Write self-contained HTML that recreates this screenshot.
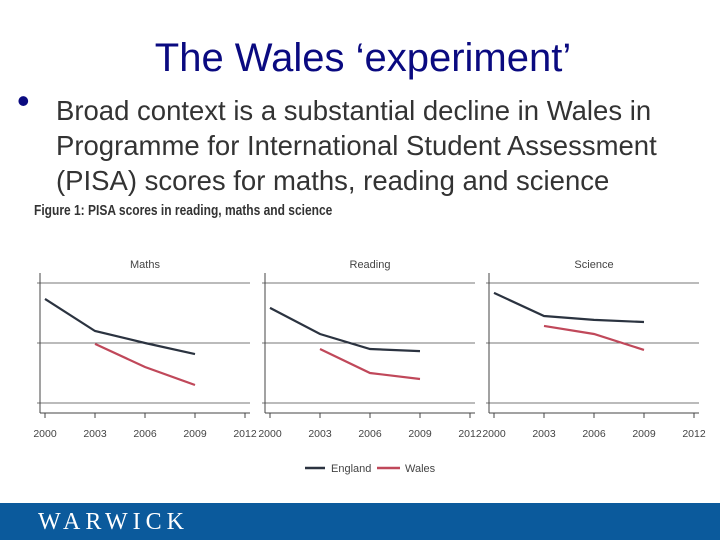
<!DOCTYPE html>
<html><head><meta charset="utf-8"><style>
body{margin:0;width:720px;height:540px;background:#fff;position:relative;overflow:hidden;font-family:"Liberation Sans",sans-serif}
.t{position:absolute;white-space:nowrap}
</style></head><body>
<div class="t" style="left:0;width:726px;text-align:center;top:36px;font-size:40px;color:#0a0a80">The Wales ‘experiment’</div>
<div class="t" style="left:17px;top:80px;font-size:36px;color:#0a0a80">•</div>
<div class="t" style="left:56px;top:93px;font-size:27.5px;line-height:35px;color:#333">Broad context is a substantial decline in Wales in<br>Programme for International Student Assessment<br>(PISA) scores for maths, reading and science</div>
<div class="t" style="left:34px;top:202px;font-size:15px;font-weight:bold;color:#333;transform:scaleX(0.8);transform-origin:left">Figure 1: PISA scores in reading, maths and science</div>
<svg id="ch" width="720" height="540" style="position:absolute;left:0;top:0"></svg>
<div style="position:absolute;left:0;top:503px;width:720px;height:37px;background:#0b5a9c"></div>
<div class="t" style="left:38px;top:509px;font-family:'Liberation Serif',serif;font-size:24px;letter-spacing:5px;color:#fff">WARWICK</div>
<script>
const years=[2000,2003,2006,2009,2012];
const panelNames=["Maths","Reading","Science"];
const englandMaths=[514.7,504,500,496.3];
const walesMaths=[null,499.7,492,486];
const englandReading=[511.7,503,498,497.3];
const walesReading=[null,498,490,488];
const englandScience=[516.7,509,507.7,507];
const walesScience=[null,505.7,503,497.7];
const gridVals=[520,500,480];
const eng=[englandMaths,englandReading,englandScience];
const wal=[walesMaths,walesReading,walesScience];
const svg=document.getElementById('ch');const NS='http://www.w3.org/2000/svg';
function mk(t,a,p){const e=document.createElementNS(NS,t);for(const k in a)e.setAttribute(k,a[k]);(p||svg).appendChild(e);return e;}
const px0=[45,270,494];const pw=200;
function y(v){return 343-(v-500)*3;}
panelNames.forEach((nm,i)=>{
 const x0=px0[i];const x=yr=>x0+(yr-2000)/12*pw;
 const g=mk('g',{});
 
 
 const tt=mk('text',{x:x0+100,y:268,'text-anchor':'middle','font-size':11,fill:'#444'},g);tt.textContent=nm;
 
 gridVals.forEach(v=>{const l=mk('line',{x1:x0-8,x2:x0+205,y1:y(v),y2:y(v),stroke:'#777','stroke-width':1},g);
  });
 const ax=mk('line',{x1:x0-5,x2:x0-5,y1:273,y2:413,stroke:'#444','stroke-width':1},g);
 
 const xa=mk('line',{x1:x0-5,x2:x0+205,y1:413,y2:413,stroke:'#444','stroke-width':1},g);
 
 years.forEach(yr=>{mk('line',{x1:x(yr),x2:x(yr),y1:413,y2:418,stroke:'#444'},g);
  const t=mk('text',{x:x(yr),y:437,'text-anchor':'middle','font-size':10.5,fill:'#444'},g);t.textContent=yr;
  });
 [[eng[i],'#2b3340','england'],[wal[i],'#c0485a','wales']].forEach(([d,c,n])=>{
  const pts=d.map((v,j)=>v==null?null:x(years[j])+','+y(v)).filter(s=>s);
  const p=mk('polyline',{points:pts.join(' '),fill:'none',stroke:c,'stroke-width':2.2},g);
  });
});
const lg=mk('g',{});
mk('line',{x1:305,x2:325,y1:468,y2:468,stroke:'#2b3340','stroke-width':2.5},lg);
let t1=mk('text',{x:331,y:472,'font-size':11,fill:'#444'},lg);t1.textContent='England';

mk('line',{x1:377,x2:400,y1:468,y2:468,stroke:'#c0485a','stroke-width':2.5},lg);
let t2=mk('text',{x:405,y:472,'font-size':11,fill:'#444'},lg);t2.textContent='Wales';

</script>
</body></html>
